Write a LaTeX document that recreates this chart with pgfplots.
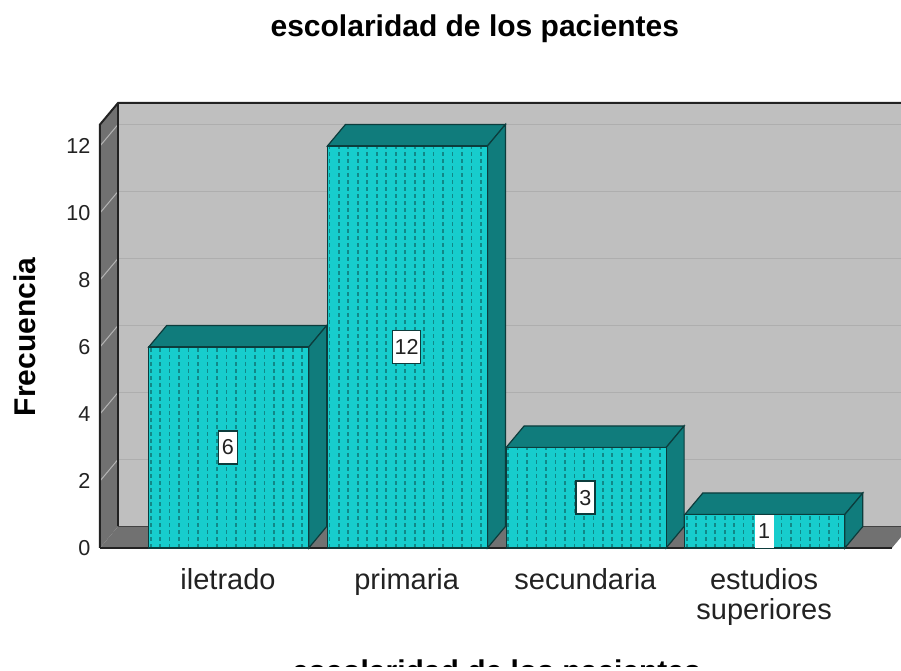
\documentclass[border=0pt]{standalone}
\usepackage{pgfplots}
\pgfplotsset{compat=1.18}
\usepackage{fontspec}
\setmainfont{Liberation Sans}

\definecolor{wallback}{HTML}{BFBFBF}
\definecolor{wallside}{HTML}{717171}
\definecolor{wallgrid}{HTML}{AEAEAE}
\definecolor{sidegrid}{HTML}{B4B4B4}
\definecolor{barfront}{HTML}{17CDCD}
\definecolor{bardark}{HTML}{107C7C}
\definecolor{barline}{HTML}{0C3C3C}
\definecolor{frame}{HTML}{222222}

\newlength{\px}
\setlength{\px}{0.75pt}

\begin{document}
\begin{tikzpicture}[x=1pt,y=1pt]
\path[use as bounding box] (0,0) rectangle (901\px,671\px);
\clip (0,4\px) rectangle (901\px,671\px);
\begin{axis}[
  at={(100\px,123\px)},
  anchor=south west,
  scale only axis,
  width=801\px,
  height=445\px,
  clip=false,
  xmin=-0.7163, xmax=3.7660,
  ymin=0, ymax=13.284,
  axis lines=left,
  axis line style={draw=none,-},
  xtick={0,1,2,3},
  xticklabels={iletrado,primaria,secundaria,{estudios\\superiores}},
  ytick={0,2,4,6,8,10,12},
  major tick length=0pt,
  tick label style={text=frame},
  x tick label style={align=center,font=\fontsize{21.75}{22.5}\selectfont,yshift=-16\px},
  y tick label style={font=\fontsize{16.2}{18}\selectfont,xshift=-5\px},
  title={escolaridad de los pacientes},
  title style={font=\fontsize{22.5}{24}\selectfont\bfseries,at={(axis description cs:0.468,1.132)},anchor=base},
  xlabel={escolaridad de los pacientes},
  xlabel style={font=\fontsize{22.5}{24}\selectfont\bfseries,at={(axis description cs:0.495,-0.3005)},anchor=base},
  ylabel={Frecuencia},
  ylabel style={font=\fontsize{22.5}{24}\selectfont\bfseries,at={(axis description cs:-0.094,0.474)},anchor=center,rotate=0},
  /pgf/number format/assume math mode=true,
  dots/.style={bardark!85!barfront,line width=1.7\px,dash pattern=on 3.5\px off 3.5\px},
]
% walls and floor
\addplot[fill=wallback,draw=none] coordinates {(-0.6156,0.642) (3.866,0.642) (3.866,13.284) (-0.6156,13.284)} -- cycle;
\addplot[fill=wallside,draw=none] coordinates {(-0.7163,0) (-0.6156,0.642) (-0.6156,13.284) (-0.7163,12.642)} -- cycle;
\addplot[fill=wallside,draw=none] coordinates {(-0.7163,0) (3.715,0) (3.816,0.642) (-0.6156,0.642)} -- cycle;
% gridlines
\addplot[wallgrid,line width=1.5\px] coordinates {(-0.6156,2.642) (3.866,2.642)};
\addplot[wallgrid,line width=1.5\px] coordinates {(-0.6156,4.642) (3.866,4.642)};
\addplot[wallgrid,line width=1.5\px] coordinates {(-0.6156,6.642) (3.866,6.642)};
\addplot[wallgrid,line width=1.5\px] coordinates {(-0.6156,8.642) (3.866,8.642)};
\addplot[wallgrid,line width=1.5\px] coordinates {(-0.6156,10.642) (3.866,10.642)};
\addplot[wallgrid,line width=1.5\px] coordinates {(-0.6156,12.642) (3.866,12.642)};
\addplot[sidegrid,line width=1\px] coordinates {(-0.7163,2) (-0.6156,2.642)};
\addplot[sidegrid,line width=1\px] coordinates {(-0.7163,4) (-0.6156,4.642)};
\addplot[sidegrid,line width=1\px] coordinates {(-0.7163,6) (-0.6156,6.642)};
\addplot[sidegrid,line width=1\px] coordinates {(-0.7163,8) (-0.6156,8.642)};
\addplot[sidegrid,line width=1\px] coordinates {(-0.7163,10) (-0.6156,10.642)};
\addplot[sidegrid,line width=1\px] coordinates {(-0.7163,12) (-0.6156,12.642)};
% frame lines
\addplot[frame,line width=2\px] coordinates {(-0.7163,0) (-0.7163,12.642) (-0.6156,13.284) (3.866,13.284)};
\addplot[frame,line width=2\px] coordinates {(-0.6156,0.642) (-0.6156,13.284)};
\addplot[frame!60!wallside,line width=1.5\px] coordinates {(-0.6156,0.642) (3.866,0.642)};
\addplot[frame,line width=2\px] coordinates {(-0.7163,0) (3.715,0)};
% bars: iletrado 6
\addplot[fill=bardark,draw=barline,line width=1.2\px] coordinates {(-0.4437,6) (-0.3430,6.642) (0.5523,6.642) (0.4517,6)} -- cycle;
\addplot[fill=bardark,draw=barline,line width=1.2\px] coordinates {(0.4517,0) (0.5523,0.642) (0.5523,6.642) (0.4517,6)} -- cycle;
\addplot[fill=barfront,draw=none] coordinates {(-0.4437,0) (-0.4437,6) (0.4517,6) (0.4517,0)} -- cycle;
\pgfplotsinvokeforeach{-0.4326,-0.3796,...,0.44}{\addplot[dots] coordinates {(#1,0) (#1,6)};}
\addplot[draw=barline,line width=1.2\px] coordinates {(-0.4437,0) (-0.4437,6) (0.4517,6) (0.4517,0)} -- cycle;
% primaria 12
\addplot[fill=bardark,draw=barline,line width=1.2\px] coordinates {(0.5563,12) (0.6570,12.642) (1.5523,12.642) (1.4517,12)} -- cycle;
\addplot[fill=bardark,draw=barline,line width=1.2\px] coordinates {(1.4517,0) (1.5523,0.642) (1.5523,12.642) (1.4517,12)} -- cycle;
\addplot[fill=barfront,draw=none] coordinates {(0.5563,0) (0.5563,12) (1.4517,12) (1.4517,0)} -- cycle;
\pgfplotsinvokeforeach{0.5674,0.6204,...,1.44}{\addplot[dots] coordinates {(#1,0) (#1,12)};}
\addplot[draw=barline,line width=1.2\px] coordinates {(0.5563,0) (0.5563,12) (1.4517,12) (1.4517,0)} -- cycle;
% secundaria 3
\addplot[fill=bardark,draw=barline,line width=1.2\px] coordinates {(1.5563,3) (1.6570,3.642) (2.5523,3.642) (2.4517,3)} -- cycle;
\addplot[fill=bardark,draw=barline,line width=1.2\px] coordinates {(2.4517,0) (2.5523,0.642) (2.5523,3.642) (2.4517,3)} -- cycle;
\addplot[fill=barfront,draw=none] coordinates {(1.5563,0) (1.5563,3) (2.4517,3) (2.4517,0)} -- cycle;
\pgfplotsinvokeforeach{1.5674,1.6204,...,2.44}{\addplot[dots] coordinates {(#1,0) (#1,3)};}
\addplot[draw=barline,line width=1.2\px] coordinates {(1.5563,0) (1.5563,3) (2.4517,3) (2.4517,0)} -- cycle;
% estudios superiores 1
\addplot[fill=bardark,draw=barline,line width=1.2\px] coordinates {(2.5563,1) (2.6570,1.642) (3.5523,1.642) (3.4517,1)} -- cycle;
\addplot[fill=bardark,draw=barline,line width=1.2\px] coordinates {(3.4517,0) (3.5523,0.642) (3.5523,1.642) (3.4517,1)} -- cycle;
\addplot[fill=barfront,draw=none] coordinates {(2.5563,0) (2.5563,1) (3.4517,1) (3.4517,0)} -- cycle;
\pgfplotsinvokeforeach{2.5674,2.6204,...,3.44}{\addplot[dots] coordinates {(#1,0) (#1,1)};}
\addplot[draw=barline,line width=1.2\px] coordinates {(2.5563,0) (2.5563,1) (3.4517,1) (3.4517,0)} -- cycle;
% value labels at half height
\addplot[draw=none,mark=none,
  nodes near coords,
  point meta=explicit symbolic,
  every node near coord/.style={anchor=center,fill=white,draw=barline,line width=1.5\px,
    inner sep=0pt,minimum height=33\px,minimum width=19\px,inner xsep=2\px,
    font=\fontsize{16.2}{18}\selectfont,text=frame},
] coordinates {(0,3)[6] (1,6)[12] (2,1.5)[3]};
\addplot[draw=none,mark=none,
  nodes near coords,
  point meta=explicit symbolic,
  every node near coord/.style={anchor=center,fill=white,
    inner sep=0pt,minimum height=33\px,minimum width=19\px,
    font=\fontsize{16.2}{18}\selectfont,text=frame},
] coordinates {(3,0.5)[1]};
\end{axis}
\end{tikzpicture}
\end{document}
